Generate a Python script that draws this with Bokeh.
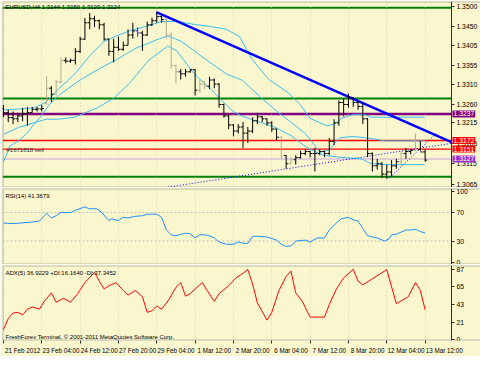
from bokeh.plotting import figure
from bokeh.models import (Range1d, FixedTicker, Label, ColumnDataSource, PrintfTickFormatter, Grid,
                          LinearAxis, BoxAnnotation)
from bokeh.layouts import column
from bokeh.transform import dodge
from bokeh.embed import file_html
from bokeh.resources import INLINE

# ---------------- data ----------------
chart_title = "EURUSD,H4  1.3144 1.3150 1.3120 1.3124"
rsi_title = "RSI(14) 41.3679"
adx_title = "ADX(5) 36.9229 +DI:16.1640 -DI:37.3452"
copyright_text = "FreshForex Terminal, \u00a9 2001-2011 MetaQuotes Software Corp."
order_text = "#1671818 sell"

opens = [1.3250, 1.3240, 1.3228, 1.3225, 1.3232, 1.3238, 1.3240, 1.3248, 1.3249, 1.3262,
         1.3300, 1.3285, 1.3315, 1.3368, 1.3366, 1.3368, 1.3390, 1.3420, 1.3460, 1.3470,
         1.3465, 1.3455, 1.3420, 1.3390, 1.3400, 1.3395, 1.3405, 1.3430, 1.3440, 1.3435,
         1.3430, 1.3455, 1.3465, 1.3475, 1.3468, 1.3430, 1.3355, 1.3340, 1.3335, 1.3340,
         1.3345, 1.3295, 1.3310, 1.3305, 1.3320, 1.3310, 1.3260, 1.3232, 1.3210, 1.3195,
         1.3205, 1.3190, 1.3195, 1.3220, 1.3230, 1.3225, 1.3215, 1.3200, 1.3180, 1.3135,
         1.3115, 1.3125, 1.3130, 1.3140, 1.3145, 1.3140, 1.3140, 1.3145, 1.3140, 1.3170,
         1.3215, 1.3265, 1.3260, 1.3275, 1.3265, 1.3255, 1.3225, 1.3140, 1.3110, 1.3115,
         1.3090, 1.3095, 1.3110, 1.3120, 1.3140, 1.3145, 1.3148, 1.3150, 1.3144]
highs = [1.3259, 1.3247, 1.3243, 1.3240, 1.3252, 1.3254, 1.3254, 1.3254, 1.3259, 1.3330,
         1.3305, 1.3321, 1.3375, 1.3375, 1.3372, 1.3398, 1.3426, 1.3472, 1.3484, 1.3477,
         1.3468, 1.3460, 1.3421, 1.3421, 1.3426, 1.3414, 1.3444, 1.3460, 1.3449, 1.3440,
         1.3463, 1.3472, 1.3486, 1.3479, 1.3472, 1.3437, 1.3358, 1.3347, 1.3347, 1.3347,
         1.3347, 1.3321, 1.3317, 1.3328, 1.3324, 1.3312, 1.3262, 1.3235, 1.3212, 1.3212,
         1.3217, 1.3205, 1.3229, 1.3240, 1.3232, 1.3226, 1.3219, 1.3201, 1.3182, 1.3136,
         1.3131, 1.3136, 1.3147, 1.3150, 1.3147, 1.3154, 1.3150, 1.3147, 1.3178, 1.3224,
         1.3270, 1.3275, 1.3287, 1.3277, 1.3270, 1.3263, 1.3227, 1.3143, 1.3127, 1.3119,
         1.3113, 1.3124, 1.3127, 1.3147, 1.3154, 1.3150, 1.3189, 1.3171, 1.3150]
lows = [1.3229, 1.3217, 1.3212, 1.3217, 1.3219, 1.3208, 1.3240, 1.3243, 1.3243, 1.3259,
        1.3266, 1.3282, 1.3312, 1.3361, 1.3362, 1.3358, 1.3386, 1.3418, 1.3444, 1.3449,
        1.3444, 1.3416, 1.3379, 1.3363, 1.3391, 1.3391, 1.3405, 1.3421, 1.3426, 1.3391,
        1.3428, 1.3452, 1.3460, 1.3460, 1.3421, 1.3347, 1.3312, 1.3321, 1.3328, 1.3338,
        1.3282, 1.3289, 1.3298, 1.3298, 1.3300, 1.3252, 1.3228, 1.3200, 1.3182, 1.3189,
        1.3154, 1.3166, 1.3190, 1.3212, 1.3217, 1.3208, 1.3193, 1.3173, 1.3127, 1.3103,
        1.3113, 1.3113, 1.3128, 1.3136, 1.3131, 1.3096, 1.3136, 1.3131, 1.3136, 1.3161,
        1.3208, 1.3231, 1.3252, 1.3254, 1.3247, 1.3212, 1.3131, 1.3096, 1.3101, 1.3080,
        1.3078, 1.3085, 1.3103, 1.3108, 1.3127, 1.3138, 1.3146, 1.3147, 1.3120]
closes = [1.3240, 1.3228, 1.3225, 1.3232, 1.3238, 1.3240, 1.3248, 1.3249, 1.3250, 1.3300,
          1.3285, 1.3315, 1.3368, 1.3366, 1.3368, 1.3390, 1.3420, 1.3460, 1.3470, 1.3465,
          1.3455, 1.3420, 1.3390, 1.3400, 1.3395, 1.3405, 1.3430, 1.3440, 1.3435, 1.3430,
          1.3455, 1.3465, 1.3475, 1.3468, 1.3430, 1.3355, 1.3340, 1.3335, 1.3340, 1.3345,
          1.3295, 1.3310, 1.3305, 1.3320, 1.3310, 1.3260, 1.3232, 1.3210, 1.3195, 1.3205,
          1.3190, 1.3195, 1.3220, 1.3230, 1.3225, 1.3215, 1.3200, 1.3180, 1.3135, 1.3115,
          1.3125, 1.3130, 1.3140, 1.3145, 1.3140, 1.3140, 1.3145, 1.3140, 1.3170, 1.3215,
          1.3265, 1.3260, 1.3275, 1.3265, 1.3255, 1.3225, 1.3140, 1.3110, 1.3115, 1.3090,
          1.3095, 1.3110, 1.3120, 1.3140, 1.3145, 1.3148, 1.3150, 1.3144, 1.3124]
faded_bars = [9, 11, 12, 34, 35, 36, 41, 42, 58, 60, 83, 86]
marked_bar = 28

band_top_x = [0, 3.4, 6.5, 8.9, 11.5, 14.9, 18.2, 21.0, 23.6, 26.3, 29.7, 33.1, 36.4, 39.8, 43.2,
              46.5, 49.3, 51.9, 55.4, 59.4, 62.0, 64.0, 67.5, 69.1, 70.5, 73.1, 75.2, 76.8, 87.9]
band_top_y = [1.3247, 1.3249, 1.3252, 1.3266, 1.3298, 1.3335, 1.3382, 1.3414, 1.3428, 1.3440,
              1.3451, 1.3463, 1.3463, 1.3456, 1.3451, 1.3444, 1.3426, 1.3370, 1.3321, 1.3289,
              1.3259, 1.3226, 1.3208, 1.3212, 1.3226, 1.3236, 1.3236, 1.3229, 1.3229]
band_mid_x = [0, 1.4, 3.4, 4.8, 8.1, 9.5, 11.5, 15.6, 19.6, 23.6, 27.7, 31.7, 34.3, 37.2, 41.2,
              46.5, 49.9, 53.9, 57.4, 60.0, 63.0, 66.1, 68.1, 70.1, 72.7, 76.2, 79.6, 87.9]
band_mid_y = [1.3120, 1.3159, 1.3173, 1.3189, 1.3235, 1.3259, 1.3282, 1.3317, 1.3345, 1.3370,
              1.3398, 1.3417, 1.3428, 1.3414, 1.3379, 1.3335, 1.3319, 1.3275, 1.3240, 1.3217,
              1.3189, 1.3143, 1.3150, 1.3178, 1.3182, 1.3178, 1.3171, 1.3171]
band_low_x = [0, 3.4, 8.9, 11.5, 14.9, 19.6, 23.0, 26.3, 30.3, 34.3, 36.2, 39.8, 43.2, 46.5,
              47.9, 49.9, 56.6, 60.0, 63.4, 66.7, 70.1, 74.7, 76.8, 79.6, 87.9]
band_low_y = [1.3187, 1.3205, 1.3224, 1.3224, 1.3229, 1.3252, 1.3275, 1.3312, 1.3368, 1.3403,
              1.3391, 1.3335, 1.3298, 1.3259, 1.3243, 1.3231, 1.3205, 1.3184, 1.3154, 1.3136,
              1.3131, 1.3127, 1.3115, 1.3113, 1.3113]

trend_x = [31.9, 93.5]
trend_y = [1.3486, 1.3168]
support_x = [30.0, 93.5]
support_y = [1.3050, 1.3165]
steep_x = [80.6, 90.3]
steep_y = [1.3081, 1.3189]

green_levels = [1.3497, 1.3275, 1.3083]
purple_level = 1.3237
red_levels = [1.3172, 1.3151]
orchid_level = 1.3127

price_ticks = [1.3065, 1.3115, 1.3165, 1.3215, 1.3260, 1.3310, 1.3355, 1.3405, 1.3450, 1.3500]

rsi_x = [0, 2, 6, 7.5, 8.5, 9, 10, 11, 12, 14, 15, 17, 17.8, 19.5, 20.5, 22, 22.6, 24, 25, 26,
         27.5, 29, 30, 32, 33, 34, 35, 36, 38, 39, 40, 41, 42, 43, 44, 45, 46.5, 48, 49, 50,
         51, 52, 53, 55, 57, 58, 59, 60, 61, 63, 64, 65.5, 67, 68, 69.5, 70.5, 72, 73, 74, 75,
         76, 77, 78, 79.5, 80.5, 81, 82, 84, 85, 86, 87, 88]
rsi_v = [55.3, 54.4, 56.7, 58.0, 65.5, 68.7, 62.4, 65.5, 70.0, 70.0, 73.1, 78.0, 75.3, 75.3, 70.0,
         58.8, 61.1, 58.8, 63.3, 62.4, 64.7, 65.5, 67.7, 67.7, 63.3, 45.5, 38.8, 37.5, 41.1, 40.1,
         34.4, 38.8, 38.8, 37.5, 34.4, 28.7, 25.5, 25.5, 28.7, 26.8, 26.8, 36.7, 36.7, 35.7, 31.3,
         25.5, 22.4, 23.3, 30.0, 31.3, 28.7, 34.4, 34.4, 45.5, 55.3, 61.1, 63.3, 59.7, 58.0, 47.7,
         37.5, 35.7, 34.4, 30.0, 33.1, 38.8, 39.7, 45.5, 45.5, 46.4, 43.3, 41.37]
rsi_levels = [30, 70]
rsi_ticks = [0, 30, 70, 100]

adx_x = [0, 1, 2, 3, 4, 5, 6, 7.5, 8.5, 10, 11, 12.5, 14, 15.5, 17, 19, 20, 21, 22, 23.5,
         25, 26, 27.5, 29, 30, 31, 32, 33, 34.5, 36, 37, 38, 39, 40, 41.5, 42.5, 44, 45, 47, 48.5,
         50, 51, 52, 53, 55, 56, 57.5, 59, 60, 61, 62.5, 63, 64, 67, 68, 69.5, 71, 73, 74, 75,
         80, 82, 84.5, 86, 87, 88]
adx_v = [12.4, 25.9, 32.8, 33.6, 30.5, 37.5, 40.3, 37.5, 47.2, 57.7, 46.1, 51.0, 46.1, 56.8, 70.4,
         83.2, 72.3, 62.6, 66.5, 70.4, 60.7, 54.9, 60.7, 53.0, 33.6, 35.6, 41.4, 37.5, 49.1, 64.6,
         70.4, 53.7, 56.8, 62.6, 70.4, 60.7, 47.2, 56.8, 66.5, 76.2, 82.0, 86.5, 68.4, 45.2, 24.0,
         33.6, 60.7, 78.1, 84.7, 57.7, 46.1, 39.4, 27.8, 27.8, 43.3, 62.6, 76.2, 87.0, 72.3, 67.6,
         86.5, 44.4, 53.0, 70.4, 60.7, 36.9]
adx_ticks = [0, 21, 43, 65, 87]

time_ticks = [0, 8, 16, 24, 32, 40, 48, 56, 64, 72, 80, 88]
time_labels = ["21 Feb 2012", "23 Feb 04:00", "24 Feb 12:00", "27 Feb 20:00", "29 Feb 04:00",
               "1 Mar 12:00", "2 Mar 20:00", "6 Mar 04:00", "7 Mar 12:00", "8 Mar 20:00",
               "12 Mar 04:00", "13 Mar 12:00"]

# ---------------- style ----------------
BG = "#FAF6CE"
FRAME = "#2E2E2E"
FONT = "Liberation Sans"
FW = 478                 # frame incl. price-scale strip
CHART_RIGHT = 93.5       # bar position of the price scale border
LABEL_SHIFT = 4.0
XR = Range1d(-0.2, 99.56)


def panel(h, yr, ticks, top=1, xaxis=None):
    p = figure(frame_width=FW, frame_height=h, x_range=XR, y_range=yr,
               output_backend="svg", toolbar_location=None,
               y_axis_location=None, x_axis_location=xaxis,
               min_border_left=2, min_border_right=0, min_border_top=top, min_border_bottom=0,
               background_fill_color=BG, border_fill_color=BG, outline_line_color=None)
    p.grid.visible = False
    ax = LinearAxis(fixed_location=CHART_RIGHT, ticker=FixedTicker(ticks=ticks))
    ax.axis_line_color = FRAME
    ax.major_tick_out = 3
    ax.major_tick_in = 0
    ax.minor_tick_out = 0
    ax.minor_tick_in = 0
    ax.major_tick_line_color = FRAME
    ax.major_label_text_font = FONT
    ax.major_label_text_font_size = "6.8px"
    ax.major_label_text_color = "#000000"
    ax.major_label_standoff = 2
    p.add_layout(ax, "right")
    p.add_layout(Grid(dimension=0, ticker=FixedTicker(ticks=time_ticks),
                      grid_line_color="#DCD7B6", grid_line_dash="1 2", level="underlay"))
    p.add_layout(BoxAnnotation(right=XR.end + 5, fill_color=None, line_color=FRAME,
                               line_width=2, level="overlay"))
    return p


def corner_text(p, txt, y, offset, baseline):
    p.add_layout(Label(x=XR.start, y=y, x_offset=3, y_offset=offset, text=txt,
                       text_font=FONT, text_font_size="6px", text_color="#000000",
                       text_baseline=baseline))


def hlines(p, levels, color, width, dash="solid"):
    p.segment(x0=[XR.start] * len(levels), x1=[CHART_RIGHT] * len(levels), y0=levels, y1=levels,
              line_color=color, line_width=width, line_dash=dash, level="underlay")


# ---------------- main price panel ----------------
main = panel(186, Range1d(1.3057, 1.3512), price_ticks)
main.right[0].formatter = PrintfTickFormatter(format="%.4f")

hlines(main, green_levels, "#008000", 2)
hlines(main, [purple_level], "#800080", 2.5)
hlines(main, red_levels, "#FF0000", 1.3)
hlines(main, [orchid_level], "#D8BFD8", 1.5)

for bx, by in ((band_top_x, band_top_y), (band_mid_x, band_mid_y), (band_low_x, band_low_y)):
    main.line(bx, by, line_color="#3CBEF0", line_width=1)

main.line(support_x, support_y, line_color="#0000FF", line_width=1, line_dash="1 2")
main.line(steep_x, steep_y, line_color="#0000FF", line_width=1, line_dash="1 2")
main.line(trend_x, trend_y, line_color="#0000FF", line_width=2.5)

n = len(closes)
bar_colors = ["#000000"] * n
for i in faded_bars:
    bar_colors[i] = "#B4AC92"
bar_colors[marked_bar] = "#3030FF"
src = ColumnDataSource(dict(x=list(range(n)), o=opens, h=highs, l=lows, c=closes, col=bar_colors))
main.segment(x0="x", y0="l", x1="x", y1="h", line_color="col", line_width=1, source=src)
main.segment(x0=dodge("x", -0.45), y0="o", x1="x", y1="o", line_color="col", line_width=1, source=src)
main.segment(x0="x", y0="c", x1=dodge("x", 0.45), y1="c", line_color="col", line_width=1, source=src)

for price, col in ((purple_level, "#800080"), (red_levels[0], "#FF0000"),
                   (red_levels[1], "#FF0000"), (orchid_level, "#9932CC")):
    main.add_layout(Label(x=CHART_RIGHT, y=price, x_offset=1, text="%.4f" % price,
                          text_font=FONT, text_font_size="6.8px", text_color="#FFFFFF",
                          text_baseline="middle", background_fill_color=col, padding=1))

corner_text(main, chart_title, main.y_range.end, -2, "top")
main.add_layout(Label(x=XR.start, y=red_levels[1], x_offset=4, y_offset=-1, text=order_text,
                      text_font=FONT, text_font_size="6px", text_color="#333333",
                      text_baseline="middle"))

# ---------------- RSI panel ----------------
rsi = panel(76, Range1d(-2.9, 103.7), rsi_ticks)
hlines(rsi, rsi_levels, "#C0C0C0", 1, "2 2")
rsi.line(rsi_x, rsi_v, line_color="#1E90FF", line_width=1)
corner_text(rsi, rsi_title, rsi.y_range.end, -4, "top")

# ---------------- ADX panel ----------------
adx = panel(75, Range1d(-1.2, 91.6), adx_ticks, xaxis="below")
adx.line(adx_x, adx_v, line_color="#FF0000", line_width=1)
corner_text(adx, adx_title, adx.y_range.end, -4, "top")
corner_text(adx, copyright_text, adx.y_range.start, 1, "bottom")

xa = adx.xaxis[0]
label_pos = [t + LABEL_SHIFT for t in time_ticks]
xa.ticker = FixedTicker(ticks=label_pos, minor_ticks=time_ticks)
xa.major_label_overrides = {pos: lab for pos, lab in zip(label_pos, time_labels)}
xa.axis_line_color = None
xa.major_tick_out = 0
xa.major_tick_in = 0
xa.minor_tick_out = 3
xa.minor_tick_in = 0
xa.minor_tick_line_color = FRAME
xa.major_label_text_font = FONT
xa.major_label_text_font_size = "6.3px"
xa.major_label_text_color = "#000000"
xa.major_label_standoff = 3

layout = column(main, rsi, adx, spacing=0)
open("out.html", "w").write(file_html(layout, INLINE))
